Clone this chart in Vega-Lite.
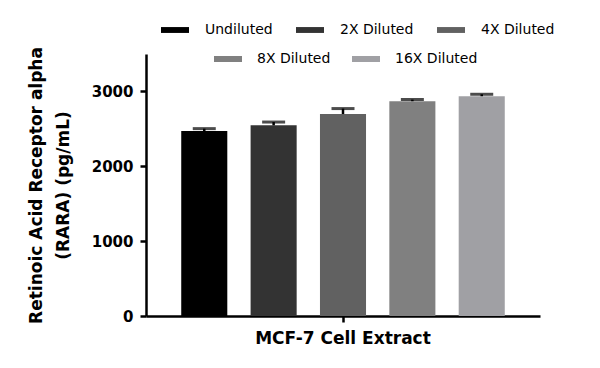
{
  "$schema": "https://vega.github.io/schema/vega-lite/v6.json",
  "width": 394,
  "height": 262,
  "autosize": {"type": "none"},
  "padding": {"left": 146, "top": 54, "right": 60, "bottom": 52},
  "config": {
    "view": {"stroke": null},
    "font": "DejaVu Sans",
    "axis": {
      "domainColor": "#000000",
      "domainWidth": 2.5,
      "tickColor": "#000000",
      "tickWidth": 2.5,
      "tickSize": 6,
      "grid": false,
      "labelColor": "#000000",
      "labelFont": "DejaVu Sans",
      "labelFontWeight": "bold",
      "titleColor": "#000000",
      "titleFont": "DejaVu Sans",
      "titleFontWeight": "bold"
    },
    "legend": {
      "labelFont": "DejaVu Sans",
      "labelFontSize": 14,
      "labelColor": "#000000",
      "symbolSize": 784,
      "labelOffset": 16,
      "columnPadding": 24,
      "title": null
    }
  },
  "data": {
    "values": [
      {"sample": "MCF-7 Cell Extract", "dilution": "Undiluted", "value": 2470, "upper": 2503},
      {"sample": "MCF-7 Cell Extract", "dilution": "2X Diluted", "value": 2547, "upper": 2591},
      {"sample": "MCF-7 Cell Extract", "dilution": "4X Diluted", "value": 2698, "upper": 2771},
      {"sample": "MCF-7 Cell Extract", "dilution": "8X Diluted", "value": 2869, "upper": 2891},
      {"sample": "MCF-7 Cell Extract", "dilution": "16X Diluted", "value": 2936, "upper": 2962}
    ]
  },
  "encoding": {
    "x": {
      "field": "sample",
      "type": "nominal",
      "scale": {"paddingInner": 0, "paddingOuter": 0.068},
      "axis": {"title": null, "labelAngle": 0, "labelFontSize": 17, "labelPadding": 8}
    },
    "xOffset": {
      "field": "dilution",
      "type": "nominal",
      "sort": ["Undiluted", "2X Diluted", "4X Diluted", "8X Diluted", "16X Diluted"],
      "scale": {"paddingInner": 0.336, "paddingOuter": 0.168}
    }
  },
  "layer": [
    {
      "mark": {"type": "bar", "strokeWidth": 0},
      "encoding": {
        "y": {
          "field": "value",
          "type": "quantitative",
          "scale": {"domain": [0, 3500], "nice": false},
          "axis": {
            "values": [0, 1000, 2000, 3000],
            "format": "d",
            "labelFontSize": 15,
            "labelPadding": 7,
            "title": ["Retinoic Acid Receptor alpha", "(RARA) (pg/mL)"],
            "titleFontSize": 17,
            "titleLineHeight": 27,
            "titlePadding": 19
          }
        },
        "fill": {
          "field": "dilution",
          "type": "nominal",
          "scale": {
            "domain": ["Undiluted", "2X Diluted", "4X Diluted", "8X Diluted", "16X Diluted"],
            "range": ["#000000", "#333333", "#616161", "#808080", "#a0a0a4"]
          },
          "legend": {
            "orient": "none",
            "direction": "horizontal",
            "symbolType": "M-1,-0.21H1V0.21H-1Z",
            "symbolStrokeWidth": 0,
            "columnPadding": 23,
            "values": ["Undiluted", "2X Diluted", "4X Diluted"],
            "legendX": 15,
            "legendY": -38
          }
        },
        "stroke": {
          "field": "dilution",
          "type": "nominal",
          "scale": {
            "domain": ["8X Diluted", "16X Diluted", "Undiluted", "2X Diluted", "4X Diluted"],
            "range": ["#808080", "#a0a0a4", "#000000", "#333333", "#616161"]
          },
          "legend": {
            "orient": "none",
            "direction": "horizontal",
            "symbolType": "M-1,0H1",
            "symbolStrokeWidth": 6,
            "labelOffset": 12,
            "columnPadding": 9,
            "values": ["8X Diluted", "16X Diluted"],
            "legendX": 65,
            "legendY": -12
          }
        }
      }
    },
    {
      "mark": {"type": "rule", "color": "#000000", "strokeWidth": 2.5},
      "encoding": {
        "y": {"field": "value", "type": "quantitative"},
        "y2": {"field": "upper"}
      }
    },
    {
      "mark": {"type": "tick", "orient": "horizontal", "color": "#000000", "size": 23, "thickness": 3},
      "encoding": {
        "y": {"field": "upper", "type": "quantitative"}
      }
    }
  ]
}
